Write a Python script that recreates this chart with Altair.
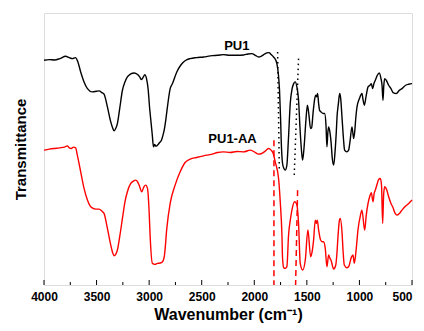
import altair as alt
import pandas as pd

# ---- data (transmittance in arbitrary units) ----
pu1_wn = [4000, 3950, 3900, 3850, 3794, 3760, 3730, 3700, 3680, 3651, 3619, 3587, 3540, 3500, 3476,
          3450, 3429, 3397, 3365, 3345, 3334, 3318, 3302, 3280, 3254, 3230, 3207, 3175, 3143, 3110,
          3090, 3073, 3055, 3042, 3025, 3010, 2995, 2984, 2970, 2959, 2948, 2935, 2921, 2900, 2883,
          2870, 2857, 2840, 2826, 2800, 2778, 2737, 2700, 2673, 2640, 2610, 2550, 2483, 2400, 2350,
          2293, 2230, 2166, 2100, 2060, 2023, 1990, 1959, 1930, 1900, 1880, 1860, 1840, 1817, 1800,
          1785, 1770, 1760, 1750, 1744, 1731, 1718, 1706, 1690, 1675, 1658, 1640, 1625, 1610, 1595,
          1580, 1565, 1550, 1540, 1525, 1510, 1495, 1480, 1465, 1455, 1440, 1425, 1414, 1405, 1398,
          1388, 1379, 1365, 1345, 1331, 1318, 1309, 1300, 1293, 1284, 1270, 1258, 1245, 1232, 1220,
          1213, 1200, 1188, 1178, 1166, 1152, 1141, 1120, 1103, 1090, 1071, 1062, 1055, 1045, 1035,
          1023, 1000, 976, 965, 953, 935, 918, 900, 887, 874, 862, 849, 830, 811, 795,
          785, 776, 768, 760, 745, 722, 700, 680, 649, 620, 595, 560, 531, 500]
pu1_t = [675, 677, 676, 680, 687, 683, 680, 683, 672, 640, 610, 590, 580, 582, 583,
         578, 573, 535, 490, 470, 463, 470, 485, 530, 585, 610, 625, 634, 637, 632,
         625, 617, 625, 632, 620, 590, 530, 495, 450, 415, 422, 417, 420, 428, 435,
         448, 465, 500, 535, 590, 605, 640, 660, 670, 677, 680, 683, 685, 689, 690,
         692, 690, 690, 691, 694, 695, 690, 685, 688, 694, 697, 698, 692, 685, 678,
         665, 630, 585, 500, 435, 365, 350, 345, 360, 440, 545, 590, 605, 610, 595,
         560, 470, 400, 375, 420, 490, 540, 510, 470, 472, 520, 560, 570, 565, 575,
         545, 525, 520, 515, 515, 480, 415, 460, 475, 465, 430, 380, 360, 400, 460,
         505, 545, 575, 560, 505, 440, 405, 400, 405, 430, 475, 455, 440, 460, 500,
         535, 560, 575, 555, 540, 570, 595, 600, 605, 590, 605, 615, 630, 637, 620,
         600, 555, 600, 620, 615, 600, 590, 578, 575, 585, 590, 600, 603, 605]

aa_wn = [4000, 3950, 3905, 3850, 3800, 3778, 3760, 3740, 3720, 3699, 3683, 3651, 3619, 3587, 3556,
         3508, 3476, 3450, 3429, 3397, 3365, 3345, 3334, 3318, 3302, 3280, 3254, 3230, 3207, 3175,
         3150, 3127, 3110, 3095, 3070, 3050, 3032, 3016, 3000, 2991, 2969, 2945, 2921, 2895, 2873,
         2854, 2832, 2800, 2753, 2705, 2658, 2610, 2550, 2483, 2400, 2350, 2293, 2230, 2166, 2100,
         2039, 2000, 1959, 1930, 1896, 1864, 1840, 1820, 1801, 1769, 1753, 1737, 1731, 1720, 1706,
         1690, 1674, 1655, 1642, 1617, 1600, 1594, 1579, 1563, 1540, 1515, 1490, 1464, 1450, 1436,
         1420, 1410, 1401, 1388, 1369, 1355, 1341, 1325, 1309, 1293, 1280, 1271, 1245, 1225, 1214,
         1204, 1190, 1182, 1166, 1155, 1144, 1120, 1103, 1077, 1061, 1049, 1030, 1014, 990, 976,
         950, 935, 918, 900, 887, 871, 860, 849, 830, 817, 801, 790, 779, 770, 760,
         740, 722, 700, 684, 660, 642, 620, 595, 560, 531, 500]
aa_t = [405, 408, 410, 412, 415, 418, 412, 410, 414, 412, 390, 340, 290, 255, 235,
        228, 228, 222, 215, 170, 120, 95, 88, 92, 105, 145, 200, 250, 280, 305,
        312, 315, 310, 300, 280, 295, 300, 290, 220, 150, 65, 62, 65, 66, 70,
        90, 170, 245, 300, 340, 368, 378, 383, 388, 393, 398, 400, 398, 401, 400,
        405, 400, 393, 395, 402, 410, 405, 395, 370, 320, 250, 150, 80, 52, 50,
        55, 150, 200, 225, 250, 245, 240, 185, 65, 45, 75, 165, 85, 100, 135,
        195, 185, 195, 165, 135, 130, 130, 110, 55, 90, 80, 75, 48, 60, 95,
        145, 195, 200, 160, 100, 60, 52, 55, 83, 90, 65, 110, 165, 210, 225,
        165, 210, 245, 268, 277, 250, 275, 285, 305, 317, 320, 300, 185, 270, 295,
        285, 265, 245, 235, 215, 210, 215, 225, 237, 245, 255]

major_ticks = [4000, 3500, 3000, 2500, 2000, 1500, 1000, 500]
minor_ticks = [3750, 3250, 2750, 2250, 1750, 1250, 750]

# guide lines (start wavenumber, end wavenumber, top value, bottom value)
dot_wn = [1778, 1579]
dot_wn2 = [1762, 1620]
dot_t = [700, 680]
dot_t2 = [345, 330]
dash_wn = [1813, 1588]
dash_wn2 = [1813, 1607]
dash_t = [435, 285]
dash_t2 = [0, 0]

label_text = ["PU1", "PU1-AA"]
label_wn = [2166, 2207]
label_t = [717, 438]

FONT = "Liberation Sans"

df = pd.concat([
    pd.DataFrame({"wn": pu1_wn, "t": pu1_t, "sample": "PU1"}),
    pd.DataFrame({"wn": aa_wn, "t": aa_t, "sample": "PU1-AA"}),
])

x_scale = alt.Scale(domain=[500, 4000], reverse=True, nice=False, zero=False)
y_scale = alt.Scale(domain=[0, 817], nice=False, zero=False)

x_axis = alt.Axis(
    values=major_ticks, title="Wavenumber (cm⁻¹)", format="d",
    domain=False, ticks=False, grid=False,
    labelFont=FONT, labelFontSize=12, labelFontWeight="bold", labelColor="black",
    labelPadding=6,
    labelAlign={"condition": {"test": "datum.value == 500", "value": "right"}, "value": "center"},
    titleFont=FONT, titleFontSize=16, titleFontWeight="bold", titleColor="black",
    titlePadding=4,
)
y_axis = alt.Axis(
    title="Transmittance", labels=False, ticks=False, domain=False, grid=False,
    titleFont=FONT, titleFontSize=15, titleFontWeight="bold", titleColor="black",
    titlePadding=16,
)

lines = alt.Chart(df).mark_line(strokeWidth=1.4, interpolate="monotone").encode(
    x=alt.X("wn:Q", scale=x_scale, axis=x_axis),
    y=alt.Y("t:Q", scale=y_scale, axis=y_axis),
    color=alt.Color("sample:N", scale=alt.Scale(domain=["PU1", "PU1-AA"], range=["#000000", "#ff0000"]), legend=None),
)

dots = alt.Chart(pd.DataFrame({"wn": dot_wn, "wn2": dot_wn2, "t": dot_t, "t2": dot_t2})).mark_rule(
    color="#000000", strokeWidth=1.5, strokeDash=[1.5, 3.5]
).encode(x="wn:Q", x2="wn2:Q", y="t:Q", y2="t2:Q")

dashes = alt.Chart(pd.DataFrame({"wn": dash_wn, "wn2": dash_wn2, "t": dash_t, "t2": dash_t2})).mark_rule(
    color="#ff0000", strokeWidth=1.5, strokeDash=[6, 4]
).encode(x="wn:Q", x2="wn2:Q", y="t:Q", y2="t2:Q")

major = alt.Chart(pd.DataFrame({"wn": major_ticks})).mark_rule(color="black", strokeWidth=1).encode(
    x="wn:Q", y=alt.value(272), y2=alt.value(267))
minor = alt.Chart(pd.DataFrame({"wn": minor_ticks})).mark_rule(color="black", strokeWidth=1).encode(
    x="wn:Q", y=alt.value(272), y2=alt.value(269))

labels = alt.Chart(pd.DataFrame({"wn": label_wn, "t": label_t, "txt": label_text})).mark_text(
    font=FONT, fontSize=13, fontWeight="bold", color="black", baseline="middle", align="center"
).encode(x="wn:Q", y="t:Q", text="txt:N")

chart = alt.layer(lines, dots, dashes, major, minor, labels).properties(
    width=368, height=272,
    autosize=alt.AutoSizeParams(type="none"),
    padding={"left": 36, "top": 5, "right": 4, "bottom": 41},
).configure_view(stroke="#222222", strokeWidth=1).configure(background="white")

chart.save("out.html", embed_options={"renderer": "svg", "actions": False})
